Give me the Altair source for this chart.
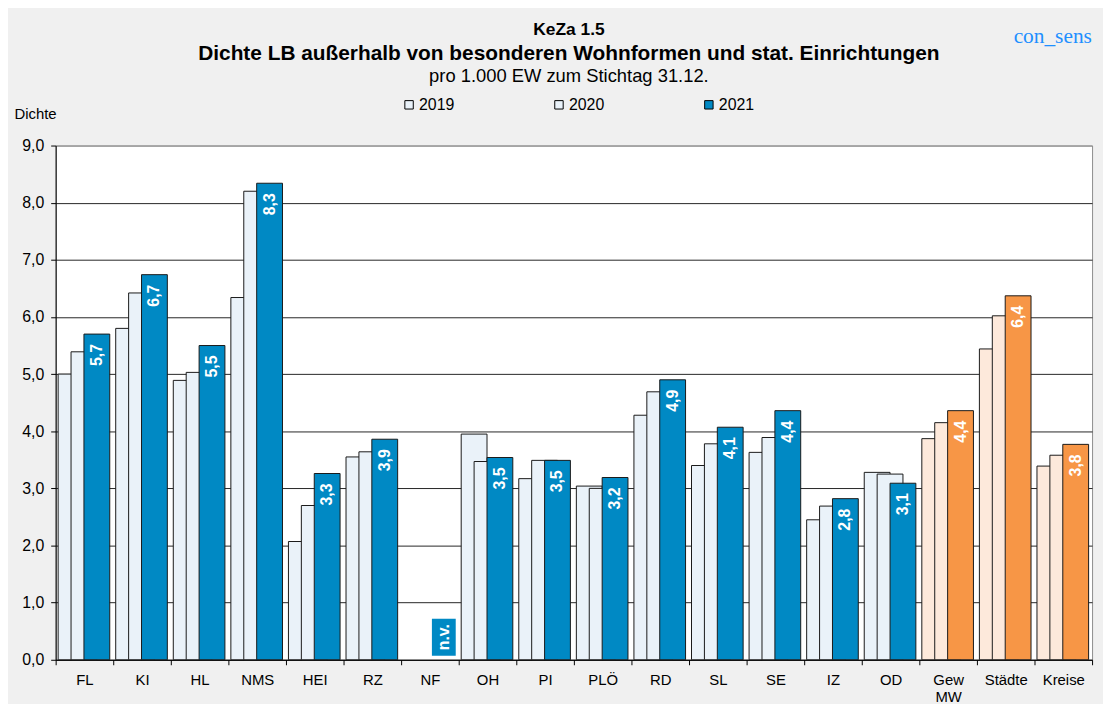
import altair as alt
import pandas as pd

# ---------------- data ----------------
categories = ["FL", "KI", "HL", "NMS", "HEI", "RZ", "NF", "OH", "PI", "PLÖ",
              "RD", "SL", "SE", "IZ", "OD", "Gew MW", "Städte", "Kreise"]
years = ["2019", "2020", "2021"]
v2019 = [5.00, 5.80, 4.89, 6.34, 2.07, 3.55, None, 3.95, 3.17, 3.04,
         4.28, 3.40, 3.63, 2.45, 3.28, 3.87, 5.44, 3.39]
v2020 = [5.39, 6.42, 5.03, 8.20, 2.70, 3.64, None, 3.47, 3.49, 3.00,
         4.69, 3.78, 3.89, 2.69, 3.25, 4.15, 6.02, 3.58]
v2021 = [5.70, 6.74, 5.50, 8.34, 3.26, 3.86, None, 3.54, 3.49, 3.19,
         4.90, 4.07, 4.36, 2.82, 3.09, 4.36, 6.37, 3.77]
summary_cats = ["Gew MW", "Städte", "Kreise"]
na_cats = ["NF"]
na_labels = ["n.v."]
y_ticks = [0, 1, 2, 3, 4, 5, 6, 7, 8, 9]

rows = []
for i, c in enumerate(categories):
    for yr, vals in zip(years, [v2019, v2020, v2021]):
        key = ("o" + yr) if c in summary_cats else yr
        rows.append({"cat": c, "year": yr, "key": key, "value": vals[i]})
df = pd.DataFrame(rows)
nv_df = pd.DataFrame({"cat": na_cats, "label": na_labels})

# ---------------- styling ----------------
FONT = "Liberation Sans"
LIGHT_BLUE = "#eaf2f9"
BLUE = "#0089c4"
PEACH = "#fde9db"
ORANGE = "#f79646"
W, H = 1044, 518
BAR_W = 26
offsets = {"2019": -13.5, "2020": -0.5, "2021": 12.5}

fill_scale = alt.Scale(
    domain=["2019", "2020", "2021", "o2019", "o2020", "o2021"],
    range=[LIGHT_BLUE, LIGHT_BLUE, BLUE, PEACH, PEACH, ORANGE],
)

x_enc = alt.X(
    "cat:N", sort=categories, title=None,
    scale=alt.Scale(paddingInner=0, paddingOuter=0),
    axis=alt.Axis(
        labelAngle=0, tickBand="extent", tickSize=5, tickColor="#000",
        domainColor="#000", labelFontSize=15, labelFont=FONT, labelColor="#000",
        labelPadding=8, labelLineHeight=17, grid=False,
        labelExpr="datum.label == 'Gew MW' ? ['Gew', 'MW'] : datum.label",
    ),
)

y_scale = alt.Scale(domain=[0, 9], nice=False)
y_axis = alt.Axis(
    values=y_ticks,
    labelExpr="replace(format(datum.value, '.1f'), '.', ',')",
    title="Dichte", titleAngle=0, titleAlign="left", titleBaseline="middle",
    titleX=-42, titleY=-32, titleFontSize=15, titleFontWeight="normal",
    titleFont=FONT, titleColor="#000",
    labelFontSize=16, labelFont=FONT, labelColor="#000", labelPadding=7,
    tickSize=5, tickColor="#000", domainColor="#000",
    gridColor={"condition": {"test": "datum.value == 9", "value": "#8c8c8c"},
               "value": "#262626"},
    gridWidth=1,
)

legend = alt.Legend(
    title=None, orient="none", legendX=348, legendY=-49, direction="horizontal",
    values=years, symbolType="square", symbolSize=72, symbolStrokeColor="#000",
    symbolStrokeWidth=1, labelFontSize=16, labelFont=FONT, labelColor="#000",
    columnPadding=97, labelOffset=2,
)


def bar_layer(yr):
    return (
        alt.Chart(df)
        .transform_filter(f"datum.year == '{yr}' && isValid(datum.value)")
        .mark_bar(width=BAR_W, xOffset=offsets[yr], stroke="#1a1a1a", strokeWidth=1)
        .encode(
            x=x_enc,
            y=alt.Y("value:Q", scale=y_scale, axis=y_axis),
            fill=alt.Fill("key:N", scale=fill_scale, legend=legend),
        )
    )


labels = (
    alt.Chart(df)
    .transform_filter("datum.year == '2021' && isValid(datum.value)")
    .transform_calculate(lbl="replace(format(datum.value, '.1f'), '.', ',')")
    .mark_text(angle=270, align="right", baseline="middle", dx=-10,
               xOffset=offsets["2021"], color="white", fontWeight="bold",
               fontSize=16, font=FONT)
    .encode(x=x_enc, y=alt.Y("value:Q", scale=y_scale), text="lbl:N")
)

nv_box = (
    alt.Chart(nv_df)
    .mark_bar(width=24, xOffset=14, color=BLUE)
    .encode(x=x_enc, y=alt.datum(0.07), y2=alt.datum(0.72))
)
nv_text = (
    alt.Chart(nv_df)
    .mark_text(angle=270, align="center", baseline="middle",
               xOffset=14, color="white", fontWeight="bold",
               fontSize=16, font=FONT)
    .encode(x=x_enc, y=alt.datum(0.395), text="label:N")
)

keza = (
    alt.Chart(pd.DataFrame({"t": ["KeZa 1.5"]}))
    .mark_text(fontSize=17.5, fontWeight="bold", font=FONT, color="#000",
               align="center", baseline="middle")
    .encode(x=alt.value(517), y=alt.value(-116), text="t:N")
)
brand = (
    alt.Chart(pd.DataFrame({"t": ["con_sens"]}))
    .mark_text(fontSize=21.5, font="Liberation Serif", color="#1e8fff",
               align="left", baseline="middle")
    .encode(x=alt.value(965), y=alt.value(-109), text="t:N")
)

chart = (
    alt.layer(bar_layer("2019"), bar_layer("2020"), bar_layer("2021"),
              labels, nv_box, nv_text, keza, brand)
    .properties(
        width=W, height=H,
        title=alt.TitleParams(
            text="Dichte LB außerhalb von besonderen Wohnformen und stat. Einrichtungen",
            subtitle="pro 1.000 EW zum Stichtag 31.12.",
            anchor="middle", fontSize=21, font=FONT, fontWeight="bold", color="#000",
            subtitleFontSize=18.5, subtitleFont=FONT, subtitleColor="#000",
            subtitlePadding=3, offset=14, dx=-5, dy=78,
        ),
        autosize=alt.AutoSizeParams(type="none"),
        padding={"left": 48, "top": 136, "right": 11, "bottom": 42},
        background="#f0f0f0",
    )
    .configure_view(fill="white", stroke="#8c8c8c", strokeWidth=1)
)

chart.save("out.html", embed_options={"renderer": "svg", "actions": False})
